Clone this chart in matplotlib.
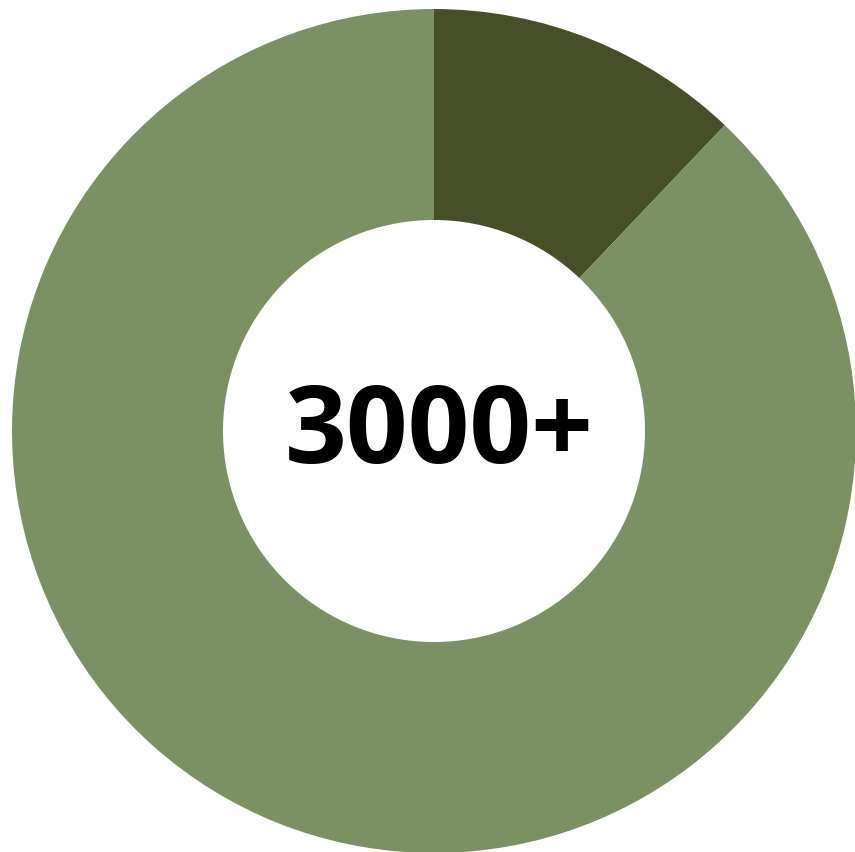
import matplotlib.pyplot as plt

# Share of the ring: highlighted segment vs the rest
labels = ["Highlighted", "Other"]
values = [12.1, 87.9]
colors = ["#474f29", "#7c9163"]
center_text = "3000+"

W, H = 855, 853
fig = plt.figure(figsize=(W / 100, H / 100), dpi=100)
ax = fig.add_axes([0, 0, 1, 1])

cx, cy, r = 434, H - 432, 422
ax.pie(values, colors=colors, startangle=90, counterclock=False,
       center=(cx, cy), radius=r, frame=True,
       wedgeprops=dict(width=r * 0.5, linewidth=0))
ax.set_xlim(0, W)
ax.set_ylim(0, H)
ax.set_aspect("equal")
ax.axis("off")

ax.text(cx + 5, cy - 3, center_text, ha="center", va="center",
        fontsize=78, fontweight="bold", family=["Open Sans", "DejaVu Sans"],
        color="black")

fig.savefig("out.png", dpi=100)
